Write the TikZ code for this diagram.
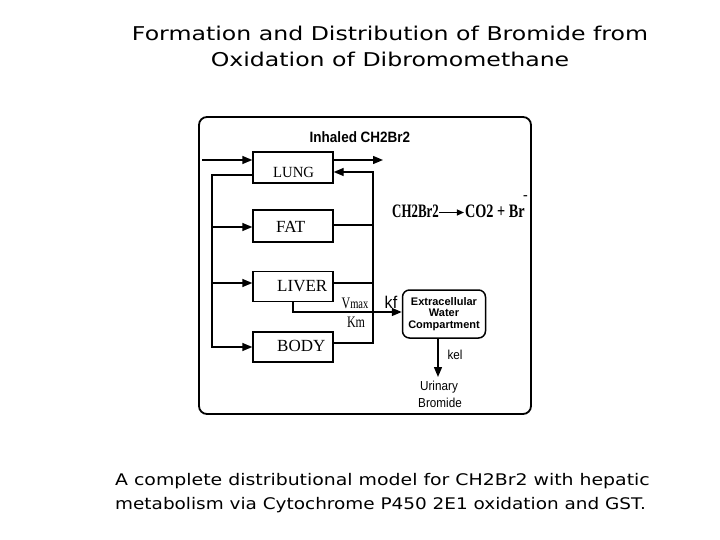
\documentclass[tikz,border=0pt]{standalone}
\usepackage{fontspec}
\setmainfont{Liberation Serif}
\setsansfont{Liberation Sans}
\newfontfamily\titlefont{DejaVu Sans}
\usetikzlibrary{arrows.meta}
\begin{document}
\begin{tikzpicture}[x=1pt,y=-1pt,
  ln/.style={line width=1.4pt},
  arr/.style={line width=1.4pt,-{Triangle[length=10pt,width=8pt]}},
  comp/.style={draw,line width=1.4pt,minimum width=80pt,inner sep=0pt},
  boxlbl/.style={anchor=base west,inner sep=0pt,font=\fontsize{17}{19}\selectfont},
  ttl/.style={anchor=base,inner sep=0pt,font=\titlefont\fontsize{19}{21}\selectfont},
  captext/.style={anchor=base west,inner sep=0pt,font=\titlefont\fontsize{16}{18}\selectfont},
  sflbl/.style={anchor=base,inner sep=0pt,font=\sffamily\fontsize{13}{15}\selectfont}]
\useasboundingbox (0,0) rectangle (720,540);
% titles
\node[ttl] (t1) at (390,41) {\scalebox{1.244}[1]{Formation and Distribution of Bromide from}};
\node[ttl] (t2) at (390,67) {\scalebox{1.244}[1]{Oxidation of Dibromomethane}};
\node[captext] (c1) at (115,485) {\scalebox{1.18}[1]{A complete distributional model for CH2Br2 with hepatic}};
\node[captext] (c2) at (115,509) {\scalebox{1.152}[1]{metabolism via Cytochrome P450 2E1 oxidation and GST.}};
% frame
\node[draw,line width=1.8pt,rounded corners=8pt,minimum width=332pt,minimum height=297pt,inner sep=0pt] (frame) at (365,265.5) {};
\node[anchor=base,inner sep=0pt,font=\sffamily\bfseries\fontsize{15}{17}\selectfont] (inh) at (360,143) {\scalebox{0.9}[1]{Inhaled CH2Br2}};
% compartments
\node[comp,minimum height=31pt] (lung) at (293,167.5) {};
\node[comp,minimum height=32pt] (fat) at (293,226) {};
\node[comp,minimum height=30pt] (liver) at (293,286.5) {};
\node[comp,minimum height=30pt] (body) at (293,347) {};
\node[boxlbl,font=\fontsize{15.5}{17}\selectfont] (lungt) at (273,178) {\scalebox{0.95}[1]{LUNG}};
\node[boxlbl] (fatt) at (276,233) {FAT};
\node[boxlbl] (livert) at (277,291) {LIVER};
\node[boxlbl] (bodyt) at (277,351) {BODY};
% inhalation / exhalation
\coordinate (in) at (202,160);
\coordinate (out) at (383,160);
\draw[arr] (in) -- (in -| lung.west);
\draw[arr] (out -| lung.east) -- (out);
% venous return (right side)
\coordinate (rtop) at (373,172);
\coordinate (rbot) at (373,343);
\coordinate (rfat) at (373,225);
\coordinate (rliv) at (373,283);
\draw[arr] (rbot -| body.east) -- (rbot) -- (rtop) -- (rtop -| lung.east);
\draw[ln] (rfat -| fat.east) -- (rfat);
\draw[ln] (rliv -| liver.east) -- (rliv);
% arterial (left side)
\coordinate (ltop) at (212,175);
\coordinate (lbot) at (212,347);
\coordinate (lfat) at (212,227);
\coordinate (lliv) at (212,283);
\draw[arr] (ltop -| lung.west) -- (ltop) -- (lbot) -- (lbot -| body.west);
\draw[arr] (lfat) -- (lfat -| fat.west);
\draw[arr] (lliv) -- (lliv -| liver.west);
% reaction
\node[anchor=base west,inner sep=0pt,font=\bfseries\fontsize{19}{21}\selectfont] (rx) at (392,218) {\scalebox{0.68}[1]{CH2Br2}\kern-0.5pt\raisebox{5.5pt}{\tikz[baseline]\draw[line width=1.2pt,-{Triangle[length=7pt,width=6pt]}] (0,0)--(25pt,0);}\kern0.5pt\scalebox{0.75}[1]{CO2 + Br}};
\node[anchor=base west,inner sep=0pt,font=\bfseries\fontsize{14}{16}\selectfont] (minus) at (523,200) {-};
% extracellular water
\node[draw,line width=1.5pt,rounded corners=7pt,minimum width=83pt,minimum height=48pt,inner sep=0pt,align=center,font=\sffamily\bfseries\fontsize{11}{11.8}\selectfont] (ecw) at (444,314) {Extracellular\\Water\\Compartment};
\coordinate (mx) at (293,312);
\draw[arr] (liver.south) -- (mx) -- (mx -| ecw.west);
\node[anchor=base,inner sep=0pt,font=\fontsize{16}{18}\selectfont] (vmax) at (355,308) {\scalebox{0.75}[1]{V{\fontsize{14}{16}\selectfont max}}};
\node[anchor=base,inner sep=0pt,font=\fontsize{16}{18}\selectfont] (km) at (356,327) {\scalebox{0.75}[1]{Km}};
\node[anchor=base,inner sep=0pt,font=\sffamily\fontsize{17}{19}\selectfont] (kf) at (391,308) {\scalebox{0.95}[1]{kf}};
% urinary
\coordinate (ud) at (438,377);
\draw[arr] (ud |- ecw.south) -- (ud);
\node[sflbl] (kel) at (455,359) {\scalebox{0.9}[1]{kel}};
\node[sflbl] (ur1) at (439,390) {\scalebox{0.9}[1]{Urinary}};
\node[sflbl] (ur2) at (440,407) {\scalebox{0.9}[1]{Bromide}};
\end{tikzpicture}
\end{document}
